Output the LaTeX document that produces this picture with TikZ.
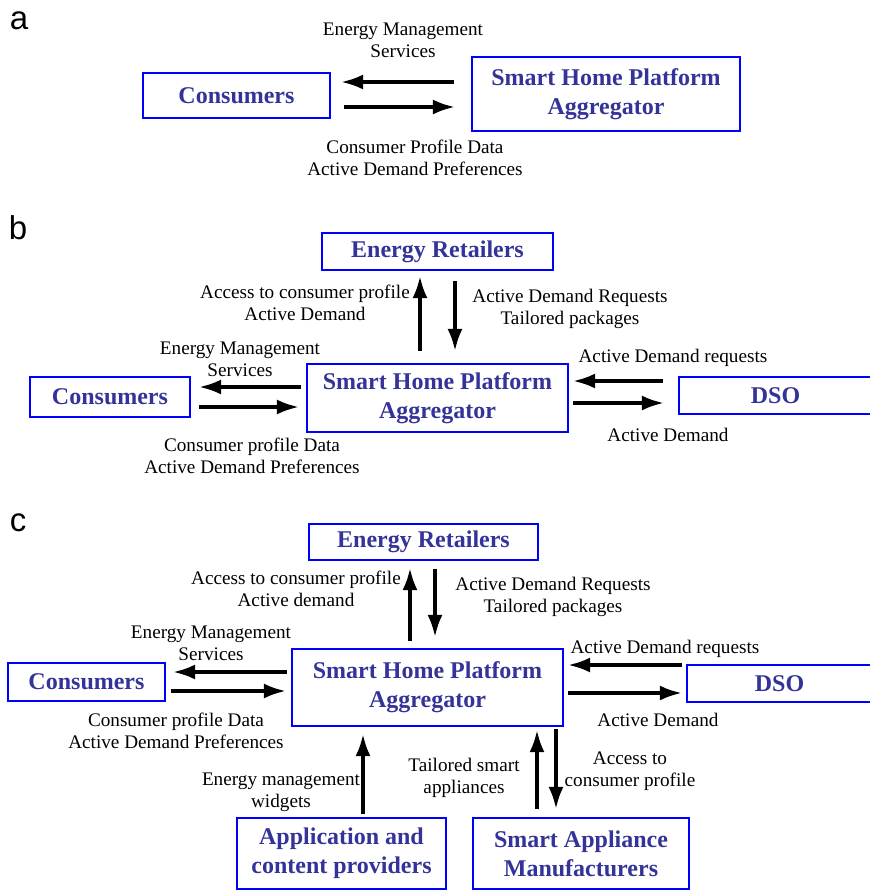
\documentclass[tikz,border=0pt]{standalone}
\usepackage{fontspec}
\setmainfont{Liberation Serif}
\newfontfamily\panelfont{Liberation Sans}
\usepackage{tikz}
\usetikzlibrary{arrows.meta,positioning}
\definecolor{boxblue}{rgb}{0.0,0.0,1.0}
\definecolor{boxtext}{rgb}{0.2,0.2,0.6}

\begin{document}
\begin{tikzpicture}[x=0.5pt,y=-0.5pt,>={Latex[length=11pt,width=7.5pt]},
  box/.style={draw=boxblue,line width=1.1pt,text=boxtext,font=\fontsize{12}{14.5}\selectfont\bfseries,align=center,inner sep=0pt},
  lbl/.style={font=\fontsize{9.6}{11}\selectfont,align=center,inner sep=0pt},
  panel/.style={font=\panelfont\fontsize{16.5}{16.5}\selectfont,inner sep=0pt},
  arr/.style={->,line width=1.7pt}]
\useasboundingbox (0,0) rectangle (869,890);
\node[panel] (pa) at (19,21) {a};
\node[box,minimum width=93.5pt,minimum height=22.5pt] (consA) at (236.5,95.5) {Consumers};
\node[box,minimum width=134pt,minimum height=37pt] (shpaA) at (606,94) {Smart Home Platform\\Aggregator};
\draw[arr,shorten <=8.5pt,shorten >=5pt] (shpaA.west |- 0,82) -- (consA.east |- 0,82);
\draw[arr,shorten <=6.5pt,shorten >=8pt] (consA.east |- 0,107) -- (shpaA.west |- 0,107);
\node[lbl] (emsA) at (403,40) {Energy Management\\Services};
\node[lbl] (cpdA) at (415,158) {Consumer Profile Data\\Active Demand Preferences};

\node[panel] (pb) at (18,228) {b};
\node[box,minimum width=115.5pt,minimum height=18.5pt] (retB) at (437.5,251.5) {Energy Retailers};
\node[box,minimum width=130.5pt,minimum height=34pt] (shpaB) at (437.5,398) {Smart Home Platform\\Aggregator};
\node[box,minimum width=80pt,minimum height=20pt] (consB) at (110,397) {Consumers};
\node[box,minimum width=96.5pt,minimum height=18.5pt] (dsoB) at (775.5,395.5) {DSO};
\draw[arr,shorten <=6pt,shorten >=2.5pt] (shpaB.north -| 420,0) -- (retB.south -| 420,0);
\draw[arr,shorten <=5pt,shorten >=6pt] (retB.south -| 455,0) -- (shpaB.north -| 455,0);
\draw[arr,shorten <=2.5pt,shorten >=4pt] (shpaB.west |- 0,387) -- (consB.east |- 0,387);
\draw[arr,shorten <=4pt,shorten >=3.5pt] (consB.east |- 0,407) -- (shpaB.west |- 0,407);
\draw[arr,shorten <=7.5pt,shorten >=2pt] (dsoB.west |- 0,381) -- (shpaB.east |- 0,381);
\draw[arr,shorten <=2pt,shorten >=7pt] (shpaB.east |- 0,403) -- (dsoB.west |- 0,403);
\node[lbl] (acpB) at (305,303) {Access to consumer profile\\Active Demand};
\node[lbl] (adrB) at (570,308.5) {Active Demand Requests\\Tailored packages};
\node[lbl] (emsB) at (240,359) {Energy Management\\Services};
\node[lbl] (cpdB) at (252,456) {Consumer profile Data\\Active Demand Preferences};
\node[lbl] (reqB) at (673,358) {Active Demand requests};
\node[lbl] (adB) at (668,435) {Active Demand};

\node[panel] (pc) at (18,523) {c};
\node[box,minimum width=114.5pt,minimum height=18pt] (retC) at (423.5,542) {Energy Retailers};
\node[box,minimum width=135.5pt,minimum height=38.5pt] (shpaC) at (427.5,687.5) {Smart Home Platform\\Aggregator};
\node[box,minimum width=78.5pt,minimum height=19pt] (consC) at (86.5,682) {Consumers};
\node[box,minimum width=92.5pt,minimum height=18.5pt] (dsoC) at (779.5,683.5) {DSO};
\node[box,minimum width=104.5pt,minimum height=35.5pt] (appC) at (341.5,853.5) {Application and\\content providers};
\node[box,minimum width=108pt,minimum height=35.5pt] (smaC) at (581,853.5) {Smart Appliance\\Manufacturers};
\draw[arr,shorten <=3.5pt,shorten >=3.5pt] (shpaC.north -| 410,0) -- (retC.south -| 410,0);
\draw[arr,shorten <=4pt,shorten >=5.5pt] (retC.south -| 435,0) -- (shpaC.north -| 435,0);
\draw[arr,shorten <=2pt,shorten >=3.5pt] (shpaC.west |- 0,672) -- (consC.east |- 0,672);
\draw[arr,shorten <=2.5pt,shorten >=2.5pt] (consC.east |- 0,691) -- (shpaC.west |- 0,691);
\draw[arr,shorten <=2pt,shorten >=2pt] (dsoC.west |- 0,665) -- (shpaC.east |- 0,665);
\draw[arr,shorten <=2pt,shorten >=2pt] (shpaC.east |- 0,693) -- (dsoC.west |- 0,693);
\draw[arr,shorten <=1.5pt,shorten >=3.5pt] (appC.north -| 363,0) -- (shpaC.south -| 363,0);
\draw[arr,shorten <=4pt,shorten >=1.5pt] (smaC.north -| 537,0) -- (shpaC.south -| 537,0);
\draw[arr,shorten <=1pt,shorten >=4pt] (shpaC.south -| 556,0) -- (smaC.north -| 556,0);
\node[lbl] (acpC) at (296,589) {Access to consumer profile\\Active demand};
\node[lbl] (adrC) at (553,597) {Active Demand Requests\\Tailored packages};
\node[lbl] (emsC) at (211,643.5) {Energy Management\\Services};
\node[lbl] (cpdC) at (176,730.5) {Consumer profile Data\\Active Demand Preferences};
\node[lbl] (reqC) at (665,649) {Active Demand requests};
\node[lbl] (adC) at (658,720) {Active Demand};
\node[lbl] (emwC) at (281,792) {Energy management\\widgets};
\node[lbl] (tsaC) at (464,778) {Tailored smart\\appliances};
\node[lbl] (acpC2) at (630,771.5) {Access to\\consumer profile};
\end{tikzpicture}
\end{document}
